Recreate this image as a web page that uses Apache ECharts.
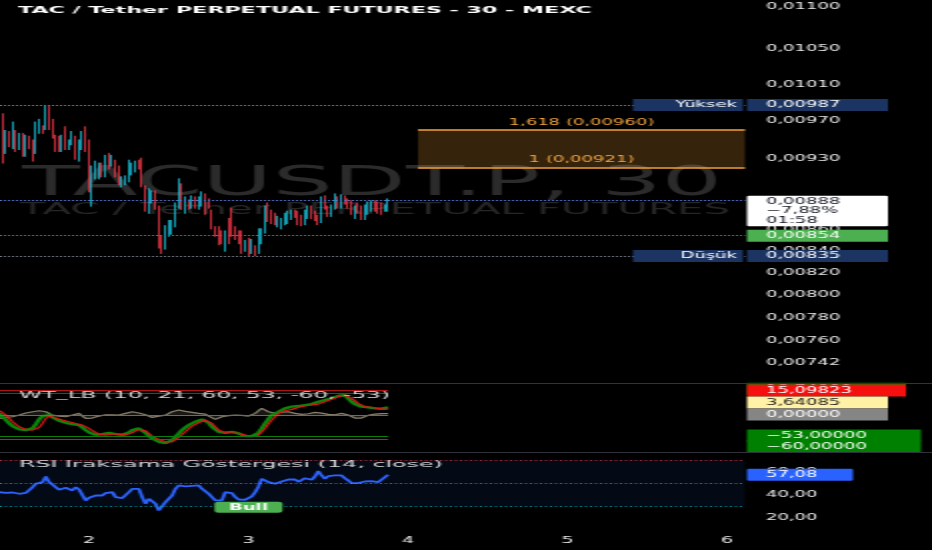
<!DOCTYPE html>
<html>
<head>
<meta charset="utf-8">
<script src="https://cdn.jsdelivr.net/npm/echarts@6/dist/echarts.min.js"></script>
<style>
html,body{margin:0;padding:0;background:#000;overflow:hidden;}
#chart{width:466px;height:550px;transform:scaleX(2);transform-origin:0 0;}
</style>
</head>
<body>
<div id="chart"></div>
<script>
// ---------------- data ----------------
const priceOpen = [
.00960,.00976,.00937,.00957,.00942,.00958,.00941,.00955,.00934,.00952,
.00947,.00937,.00958,.00963,.00962,.00985,.00970,.00953,.00952,.00939,
.00962,.00941,.00946,.00952,.00929,.00941,.00962,.00947,.00884,.00911,
.00911,.00924,.00913,.00934,.00924,.00927,.00921,.00903,.00905,.00908,
.00915,.00918,.00927,.00929,.00901,.00877,.00886,.00896,.00881,.00852,
.00842,.00855,.00857,.00864,.00882,.00903,.00877,.00887,.00882,.00890,
.00881,.00884,.00893,.00888,.00877,.00861,.00861,.00858,.00841,.00869,
.00879,.00861,.00858,.00857,.00841,.00850,.00839,.00843,.00839,.00848,
.00858,.00884,.00877,.00874,.00864,.00862,.00866,.00867,.00871,.00877,
.00876,.00872,.00866,.00872,.00881,.00876,.00872,.00868,.00891,.00881,
.00874,.00881,.00890,.00882,.00891,.00888,.00886,.00872,.00884,.00881,
.00871,.00876,.00879,.00886,.00886,.00884,.00879,.00879];
const priceClose = [
.00973,.00927,.00958,.00944,.00966,.00939,.00955,.00934,.00953,.00942,
.00929,.00966,.00970,.00958,.00985,.00962,.00953,.00939,.00939,.00953,
.00941,.00947,.00957,.00931,.00947,.00957,.00939,.00898,.00921,.00926,
.00924,.00913,.00932,.00922,.00932,.00913,.00905,.00910,.00911,.00927,
.00924,.00926,.00922,.00903,.00879,.00898,.00896,.00881,.00843,.00839,
.00862,.00867,.00867,.00884,.00908,.00881,.00890,.00881,.00891,.00882,
.00890,.00895,.00876,.00882,.00862,.00855,.00847,.00848,.00857,.00848,
.00855,.00852,.00848,.00839,.00848,.00837,.00849,.00836,.00859,.00859,
.00881,.00869,.00867,.00866,.00871,.00869,.00874,.00876,.00877,.00873,
.00866,.00865,.00877,.00881,.00872,.00870,.00866,.00890,.00881,.00874,
.00882,.00893,.00882,.00892,.00886,.00882,.00876,.00881,.00877,.00871,
.00882,.00886,.00886,.00879,.00877,.00876,.00882,.00888];
const priceLow = [
.00958,.00925,.00935,.00942,.00940,.00937,.00939,.00932,.00932,.00940,
.00927,.00935,.00956,.00956,.00960,.00960,.00951,.00937,.00937,.00937,
.00939,.00939,.00944,.00929,.00927,.00939,.00937,.00896,.00882,.00909,
.00909,.00911,.00911,.00919,.00922,.00911,.00903,.00901,.00903,.00906,
.00913,.00916,.00919,.00901,.00877,.00875,.00885,.00879,.00842,.00837,
.00841,.00853,.00855,.00862,.00880,.00879,.00875,.00879,.00880,.00880,
.00879,.00882,.00874,.00880,.00860,.00853,.00845,.00846,.00839,.00846,
.00853,.00850,.00846,.00837,.00839,.00835,.00837,.00835,.00837,.00846,
.00856,.00867,.00865,.00864,.00862,.00860,.00864,.00865,.00869,.00871,
.00864,.00863,.00864,.00870,.00870,.00868,.00864,.00866,.00879,.00872,
.00872,.00879,.00880,.00880,.00884,.00880,.00874,.00870,.00875,.00869,
.00869,.00874,.00877,.00877,.00875,.00874,.00877,.00877];
const priceHigh = [
.00975,.00978,.00960,.00959,.00969,.00960,.00957,.00957,.00955,.00954,
.00950,.00969,.00972,.00965,.00987,.00987,.00972,.00955,.00954,.00955,
.00964,.00950,.00959,.00954,.00950,.00959,.00964,.00950,.00923,.00928,
.00926,.00926,.00934,.00936,.00934,.00929,.00923,.00912,.00913,.00929,
.00926,.00928,.00929,.00931,.00903,.00900,.00898,.00898,.00883,.00854,
.00864,.00869,.00869,.00886,.00910,.00905,.00892,.00889,.00893,.00892,
.00892,.00897,.00895,.00890,.00879,.00863,.00863,.00859,.00859,.00871,
.00881,.00863,.00859,.00859,.00850,.00852,.00851,.00845,.00861,.00861,
.00883,.00886,.00879,.00876,.00873,.00871,.00876,.00878,.00879,.00879,
.00878,.00874,.00879,.00883,.00883,.00878,.00874,.00892,.00893,.00883,
.00884,.00895,.00892,.00894,.00893,.00890,.00888,.00883,.00886,.00883,
.00884,.00887,.00888,.00888,.00887,.00886,.00884,.00890];

const wt1 = [
4.1,-4.1,-12.3,-20.6,-27.2,-31.3,-35.4,-36.2,-37.0,-35.4,
-32.9,-22.2,-10.7,-2.5,0,0,-5.8,-10.7,-14.0,-16.5,
-19.0,-20.6,-22.2,-23.1,-24.7,-30.5,-37.0,-42.8,-46.9,-48.6,
-49.4,-46.9,-45.3,-43.6,-43.6,-46.9,-49.4,-48.6,-47.7,-42.8,
-37.0,-33.8,-32.9,-37.0,-43.6,-51.9,-57.6,-61.7,-65.8,-68.3,
-69.1,-68.3,-61.7,-53.5,-45.3,-37.0,-30.5,-24.7,-20.6,-16.5,
-12.3,-10.7,-12.3,-19.0,-28.8,-35.4,-41.2,-42.8,-43.6,-42.0,
-41.2,-43.6,-45.3,-49.4,-51.9,-52.7,-51.9,-47.7,-43.6,-32.9,
-20.6,-9.9,0,4.1,8.2,12.3,16.5,18.9,20.6,21.4,
22.2,23.9,24.7,26.3,27.1,30.4,32.9,35.4,37.0,39.5,
41.1,43.6,46.9,49.4,49.4,41.1,32.9,27.1,22.2,20.6,
18.9,18.9,18.9,16.5,14.0,15.6,18.1,18.74];
const wt2 = [
10.7,5.7,0,-8.2,-16.5,-23.1,-28.8,-32.1,-35.4,-36.2,
-37.0,-33.8,-30.5,-20.6,-8.2,-2.5,-4.1,-7.4,-10.7,-12.3,
-14.8,-16.5,-19.0,-20.6,-22.2,-24.7,-27.2,-32.9,-38.7,-42.8,
-46.9,-48.6,-49.4,-47.7,-46.9,-46.9,-46.9,-48.6,-49.4,-46.9,
-43.6,-39.5,-35.4,-33.8,-38.7,-43.6,-51.9,-56.0,-60.1,-63.4,
-65.9,-66.7,-65.9,-61.7,-55.2,-47.7,-41.2,-33.8,-27.2,-23.1,
-19.0,-15.7,-12.3,-14.0,-20.6,-28.8,-37.0,-41.2,-43.6,-43.6,
-43.6,-44.5,-45.3,-46.9,-49.4,-51.9,-53.5,-51.9,-49.4,-41.2,
-32.9,-22.2,-12.3,-4.1,4.1,7.4,10.7,12.3,14.0,16.5,
18.9,20.6,22.2,23.9,24.7,25.5,27.1,30.4,32.9,35.4,
38.7,42.0,45.3,47.7,49.4,46.9,41.2,35.4,28.8,23.9,
20.6,19.7,18.9,17.3,16.5,15.6,14.0,15.1];
const wtDiff = [
-8.2,-6.6,-5.8,-5.0,-4.1,-2.5,0,2.5,4.9,7.4,
8.2,9.9,10.7,9.9,8.2,4.1,0,-1.6,-2.5,-3.3,
-4.1,-2.5,0,2.5,4.1,-2.5,-8.2,-10.7,-7.4,-4.1,
-2.5,-0.8,0.8,1.7,0.8,0,0,0.8,4.1,6.6,
8.2,6.6,4.9,4.1,0.8,-2.5,-5.8,-4.1,-2.5,-0.8,
0,4.1,8.2,10.7,12.3,10.7,9.1,7.4,6.6,4.9,
4.1,3.3,2.5,-2.5,-7.4,-10.7,-7.4,-4.1,-2.5,-1.6,
-0.8,0,0,-0.8,-1.6,-2.5,-2.5,4.1,10.7,16.5,
12.3,8.2,4.1,4.1,5.8,7.4,8.2,8.2,5.8,4.1,
2.5,1.7,1.7,3.3,4.9,6.6,6.6,4.9,3.3,1.7,
0,0.8,2.5,4.1,4.1,0,-4.1,-7.4,-10.7,-7.4,
-4.1,-0.8,1.7,2.5,2.5,3.3,4.1,3.64];
const rsi = [
42.0,41.7,41.4,41.2,41.7,41.7,40.6,41.4,41.4,41.2,
46.3,49.3,49.3,50.7,55.6,50.7,48.7,46.3,44.0,44.6,
45.8,45.8,43.5,46.3,44.3,44.9,34.8,37.1,38.3,39.1,
38.3,39.1,41.2,41.7,42.0,37.7,36.8,36.8,37.7,42.0,
44.9,46.3,44.9,37.7,31.9,36.2,34.8,31.9,26.1,25.5,
33.3,34.8,39.1,44.9,47.8,47.0,47.0,46.3,47.5,47.8,
47.8,44.9,43.5,40.6,37.7,34.8,33.3,34.8,42.0,42.3,
41.2,37.7,35.6,34.8,35.4,36.2,38.3,42.0,47.0,53.6,
53.6,50.7,49.9,49.3,50.1,51.3,52.2,53.0,54.4,53.0,
51.0,52.2,54.1,53.3,52.8,55.6,60.3,56.5,53.6,55.9,
56.5,56.5,56.5,56.5,54.1,52.2,49.9,49.3,49.9,50.4,
51.3,52.2,51.6,50.7,50.7,50.7,55.0,57.08];

const priceTicks = [0.011, 0.0105, 0.0101, 0.0097, 0.0093, 0.0086, 0.0084, 0.0082, 0.008, 0.0078, 0.0076, 0.00742];
const rsiTicks = [20, 40, 60];
const rsiLevels = [70, 50, 30];
const dayTickHours = [24, 48, 72, 96, 120];
const dayLabels = ['2', '3', '4', '5', '6'];
const highPrice = 0.00987, lowPrice = 0.00835, lastPrice = 0.00888, alertPrice = 0.00854;
const lastChange = '\u22127,88%', countdown = '01:58';
const highText = 'Yüksek', lowText = 'Düşük';
const fibStartHour = 73.5;
const fibNames = ['1,618', '1'];
const fibPrices = [0.0096, 0.00921];
const wtRedLevels = [60, 53];
const wtGreenLevels = [-53, -60];
const wtLast1 = 18.74, wtLast2 = 15.09823, wtLastDiff = 3.64085;
const rsiLast = 57.08;
const bullIndex = 75;
const startHour = 10.5, barHours = 0.5;

// ---------------- layout / style ----------------
const X_MIN = 10.6, X_MAX = 122.7;
const P_MIN = 0.0072628, P_MAX = 0.011087;
const FONT = '"DejaVu Sans", sans-serif';
const UP = '#17c3de', DOWN = '#f23645';
const NAVY = '#1c3462';
const LBL = '#ececec';

const fmt = (v, d) => v.toFixed(d).replace('.', ',').replace('-', '\u2212');
const times = priceOpen.map((_, i) => startHour + i * barHours);
const lastIdx = times.length - 1;

function tagSeries(xi, yi, z, items, base) {
  return {
    type: 'scatter', xAxisIndex: xi, yAxisIndex: yi, z: z, silent: true, clip: false,
    symbol: 'circle', symbolSize: 0, animation: false, itemStyle: { opacity: 1 },
    data: items.map(it => ({
      value: [X_MAX, it.v],
      label: Object.assign({
        show: true, position: 'right', distance: 1, formatter: it.text,
        color: it.fg, backgroundColor: it.bg, padding: [1.5, 0, 1.5, 9.5],
        width: it.w, fontSize: 9, lineHeight: 9, fontFamily: FONT,
        offset: [0, it.dy || 0], overflow: 'none'
      }, base || {}, it.extra || {})
    }))
  };
}

const option = {
  backgroundColor: '#000',
  animation: false,
  textStyle: { fontFamily: FONT },
  grid: [
    { left: 0, right: 93.5, top: 0, height: 382 },
    { left: 0, right: 93.5, top: 384, height: 68 },
    { left: 0, right: 93.5, top: 453, height: 76 }
  ],
  xAxis: [0, 1, 2].map(g => ({
    type: 'value', gridIndex: g, min: X_MIN, max: X_MAX,
    axisLine: { show: false }, axisTick: { show: false }, splitLine: { show: false },
    axisLabel: g === 2 ? {
      customValues: dayTickHours,
      formatter: v => dayLabels[dayTickHours.indexOf(v)],
      color: LBL, fontSize: 9.5, margin: 7, fontFamily: FONT
    } : { show: false }
  })),
  yAxis: [
    { type: 'log', logBase: 10, gridIndex: 0, min: P_MIN, max: P_MAX, position: 'right',
      axisLine: { show: false }, axisTick: { show: false }, axisLabel: { show: false }, splitLine: { show: false } },
    { type: 'value', gridIndex: 1, min: -91, max: 76.5, position: 'right',
      axisLine: { show: false }, axisTick: { show: false }, axisLabel: { show: false }, splitLine: { show: false } },
    { type: 'value', gridIndex: 2, min: 10, max: 76, position: 'right',
      axisLine: { show: false }, axisTick: { show: false }, splitLine: { show: false },
      axisLabel: { customValues: rsiTicks, formatter: v => fmt(v, 2), color: LBL, fontSize: 9, margin: 10.5, fontFamily: FONT } }
  ],
  series: [
    {
      type: 'candlestick', name: 'TACUSDT.P', xAxisIndex: 0, yAxisIndex: 0, z: 3, silent: true,
      data: times.map((t, i) => [t, priceOpen[i], priceClose[i], priceLow[i], priceHigh[i]]),
      encode: { x: 0, y: [1, 2, 3, 4] },
      barWidth: 0.8,
      itemStyle: { color: UP, color0: DOWN, borderColor: UP, borderColor0: DOWN, borderWidth: 0.8 },
      markArea: {
        silent: true, itemStyle: { color: 'rgba(245,160,50,0.22)' },
        data: [[{ coord: [fibStartHour, fibPrices[0]] }, { coord: [X_MAX, fibPrices[1]] }]]
      },
      markLine: {
        silent: true, symbol: ['none', 'none'], animation: false, precision: 6, label: { show: false },
        data: [
          { yAxis: highPrice, lineStyle: { color: '#7b7e88', width: 1, type: [1, 1] } },
          { yAxis: lowPrice, lineStyle: { color: '#7b7e88', width: 1, type: [1, 1] } },
          { yAxis: alertPrice, lineStyle: { color: '#2f9e44', width: 1, type: [1, 1] } },
          { yAxis: lastPrice, lineStyle: { color: '#5b78d6', width: 1, type: [1, 1] } }
        ].concat(fibPrices.map((p, k) => [
          { coord: [fibStartHour, p], lineStyle: { color: '#f5a33c', width: 1.6, type: 'solid' },
            label: { show: true, position: 'insideMiddleTop', distance: 3, formatter: fibNames[k] + ' (' + fmt(p, 5) + ')',
                     color: '#f5a742', fontSize: 9, fontFamily: FONT } },
          { coord: [X_MAX, p] }
        ]))
      }
    },
    // price scale labels
    {
      type: 'scatter', xAxisIndex: 0, yAxisIndex: 0, z: 4, silent: true, clip: false,
      symbol: 'circle', symbolSize: 0, itemStyle: { opacity: 1 },
      data: priceTicks.map(p => [X_MAX, p]),
      label: { show: true, position: 'right', distance: 10.5, formatter: pr => fmt(pr.value[1], 5),
               color: LBL, fontSize: 9, fontFamily: FONT }
    },
    // price tags on the scale
    tagSeries(0, 0, 6, [
      { v: highPrice, text: fmt(highPrice, 5), bg: NAVY, fg: '#ffffff', w: 61 },
      { v: alertPrice, text: fmt(alertPrice, 5), bg: '#4caf50', fg: '#ffffff', w: 61 },
      { v: lowPrice, text: fmt(lowPrice, 5), bg: NAVY, fg: '#ffffff', w: 61 },
      { v: lastPrice, text: fmt(lastPrice, 5) + '\n' + lastChange + '\n' + countdown, bg: '#ffffff', fg: '#131722', w: 61,
        dy: 10.6, extra: { lineHeight: 9.5, padding: [1, 0, 1, 9.5], borderRadius: 1 } }
    ]),
    // high / low name tags inside the pane
    tagSeries(0, 0, 6, [
      { v: highPrice, text: highText, bg: NAVY, fg: '#ffffff', w: 47 },
      { v: lowPrice, text: lowText, bg: NAVY, fg: '#ffffff', w: 47 }
    ], { position: 'left', padding: [1.5, 3, 1.5, 5] }),
    // WT_LB
    {
      type: 'line', name: 'wt1-wt2', xAxisIndex: 1, yAxisIndex: 1, z: 2, silent: true,
      data: times.map((t, i) => [t, wtDiff[i]]), symbol: 'none',
      lineStyle: { color: '#8a806d', width: 1.2 }, areaStyle: { color: 'rgba(138,128,109,0.25)' },
      markLine: {
        silent: true, symbol: ['none', 'none'], label: { show: false }, animation: false,
        data: wtRedLevels.map(v => [{ coord: [X_MIN, v], lineStyle: { color: '#b01313', width: 1.2, type: 'solid' } }, { coord: [times[lastIdx], v] }])
          .concat(wtGreenLevels.map(v => [{ coord: [X_MIN, v], lineStyle: { color: '#0b7d0b', width: 1.2, type: 'solid' } }, { coord: [times[lastIdx], v] }]))
          .concat([[{ coord: [X_MIN, 0], lineStyle: { color: '#6a6a6a', width: 1, type: 'solid' } }, { coord: [times[lastIdx], 0] }]])
      }
    },
    { type: 'line', name: 'wt1', xAxisIndex: 1, yAxisIndex: 1, z: 3, silent: true,
      data: times.map((t, i) => [t, wt1[i]]), symbol: 'none', lineStyle: { color: '#0a860a', width: 2.4 } },
    { type: 'line', name: 'wt2', xAxisIndex: 1, yAxisIndex: 1, z: 4, silent: true,
      data: times.map((t, i) => [t, wt2[i]]), symbol: 'none', lineStyle: { color: '#e01414', width: 1.2 } },
    tagSeries(1, 1, 6, [
      { v: wtLast1, text: fmt(wtLast1, 5), bg: '#008000', fg: '#ffffff', w: 70, dy: -18.8 },
      { v: wtLast2, text: fmt(wtLast2, 5), bg: '#f50f0f', fg: '#ffffff', w: 70, dy: -18.4 },
      { v: wtLastDiff, text: fmt(wtLastDiff, 5), bg: '#fff1a6', fg: '#1a1a1a', w: 61, dy: -11.1 },
      { v: 0, text: fmt(0, 5), bg: '#858585', fg: '#ffffff', w: 61, dy: -0.6 },
      { v: wtGreenLevels[0], text: fmt(wtGreenLevels[0], 5), bg: '#008000', fg: '#ffffff', w: 77.5, dy: -1.1 },
      { v: wtGreenLevels[1], text: fmt(wtGreenLevels[1], 5), bg: '#008000', fg: '#ffffff', w: 77.5, dy: 7.1 }
    ]),
    // RSI
    {
      type: 'line', name: 'RSI', xAxisIndex: 2, yAxisIndex: 2, z: 3, silent: true,
      data: times.map((t, i) => [t, rsi[i]]), symbol: 'none',
      lineStyle: { color: '#2c63ff', width: 1.8 },
      markArea: { silent: true, itemStyle: { color: 'rgba(33,110,243,0.09)' }, data: [[{ yAxis: rsiLevels[0] }, { yAxis: rsiLevels[2] }]] },
      markLine: {
        silent: true, symbol: ['none', 'none'], label: { show: false }, animation: false,
        data: [
          { yAxis: rsiLevels[0], lineStyle: { color: 'rgba(242,54,69,0.75)', width: 1, type: [1, 1.5] } },
          { yAxis: rsiLevels[1], lineStyle: { color: 'rgba(140,140,150,0.75)', width: 1, type: [1, 1.5] } },
          { yAxis: rsiLevels[2], lineStyle: { color: 'rgba(0,170,190,0.85)', width: 1, type: [1, 1.5] } }
        ]
      },
      markPoint: {
        silent: true, symbol: 'circle', symbolSize: 0, animation: false,
        data: [{ coord: [times[bullIndex], rsi[bullIndex]],
          label: { show: true, position: 'bottom', distance: 3, formatter: 'Bull', color: '#ffffff',
                   backgroundColor: '#4caf50', padding: [1, 7], width: 20, align: 'center',
                   fontSize: 9, lineHeight: 9, fontWeight: 'bold', borderRadius: 2, fontFamily: FONT } }]
      }
    },
    tagSeries(2, 2, 6, [
      { v: rsiLast, text: fmt(rsiLast, 2), bg: '#2962ff', fg: '#ffffff', w: 43.5, extra: { borderRadius: 1 } }
    ])
  ]
};

// static texts (titles / watermark), horizontally fitted to the pane widths
const mctx = document.createElement('canvas').getContext('2d');
function fitScale(text, font, target) { mctx.font = font; return target / mctx.measureText(text).width; }
const staticTexts = [
  { text: 'TACUSDT.P, 30', x: 11, y: 184.8, font: '40px ' + FONT, fill: '#2b2b2b', target: 350, z: 0 },
  { text: 'TAC / Tether PERPETUAL FUTURES', x: 10, y: 210.5, font: '15px ' + FONT, fill: '#262626', target: 355, z: 0 },
  { text: 'TAC / Tether PERPETUAL FUTURES - 30 - MEXC', x: 9, y: 10.8, font: 'bold 9.5px ' + FONT, fill: '#ffffff', target: 287, z: 100 },
  { text: 'WT_LB (10, 21, 60, 53, -60, -53)', x: 9.5, y: 395.8, font: '9.5px ' + FONT, fill: '#d8d8d8', target: 185.5, z: 100 },
  { text: 'RSI Iraksama Göstergesi (14, close)', x: 9.5, y: 464.2, font: '9.5px ' + FONT, fill: '#d8d8d8', target: 212, z: 100 }
];
option.graphic = staticTexts.map(t => ({
  type: 'text', x: t.x, y: t.y, scaleX: fitScale(t.text, t.font, t.target), z: t.z, silent: true,
  style: { text: t.text, font: t.font, fill: t.fill, align: 'left', verticalAlign: 'middle', textAlign: 'left', textVerticalAlign: 'middle' }
})).concat([
  { type: 'line', z: 50, silent: true, shape: { x1: 0, y1: 383.5, x2: 466, y2: 383.5 }, style: { stroke: '#30333c', lineWidth: 1 } },
  { type: 'line', z: 50, silent: true, shape: { x1: 0, y1: 452.5, x2: 466, y2: 452.5 }, style: { stroke: '#30333c', lineWidth: 1 } }
]);

const chart = echarts.init(document.getElementById('chart'), null, { renderer: 'canvas' });
chart.setOption(option);
</script>
</body>
</html>
